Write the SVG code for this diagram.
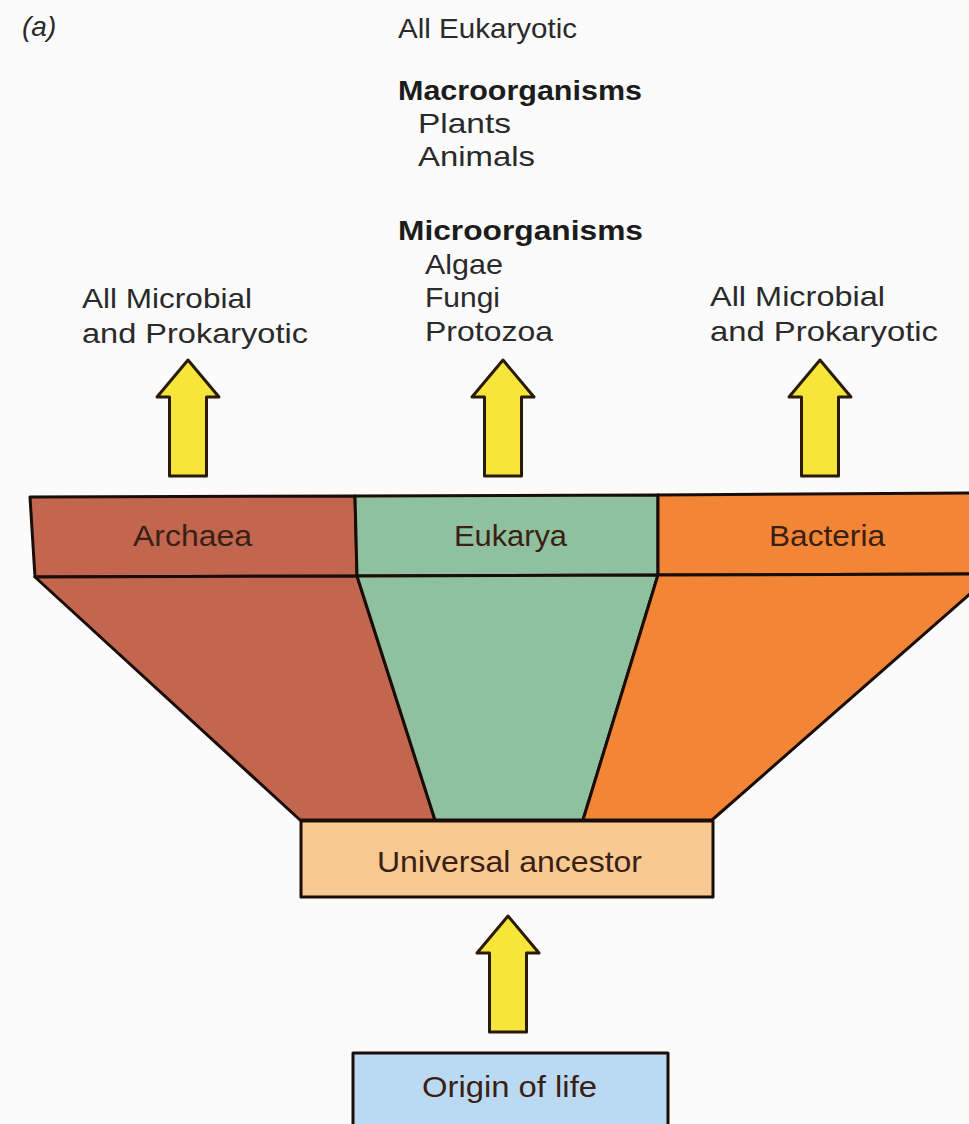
<svg xmlns="http://www.w3.org/2000/svg" width="969" height="1124" viewBox="0 0 969 1124">
<style>
.t{font-family:"Liberation Sans",Arial,sans-serif;font-size:28px;fill:#2a2a2a}
.b{font-weight:bold;font-size:28px;fill:#1c1c1c}
.lbl{font-family:"Liberation Sans",Arial,sans-serif;font-size:29px;fill:#3a1f14}
.sh{stroke:#1a0d08;stroke-width:3;stroke-linejoin:round}
.arr{fill:#f7e63a;stroke:#2a1a08;stroke-width:3;stroke-linejoin:round}
</style>
<defs>
<path id="arrow" d="M0,0 L31,37 L18.5,37 L18.5,116 L-18.5,116 L-18.5,37 L-31,37 Z"/>
</defs>
<rect width="969" height="1124" fill="#fbfbfb"/>
<g id="labels">
<text class="t" x="22" y="36" font-style="italic" font-size="25">(a)</text>
<text class="t" x="398" y="38" textLength="179" lengthAdjust="spacingAndGlyphs">All Eukaryotic</text>
<text class="t b" x="398" y="100" textLength="244" lengthAdjust="spacingAndGlyphs">Macroorganisms</text>
<text class="t" x="418" y="133" textLength="93" lengthAdjust="spacingAndGlyphs">Plants</text>
<text class="t" x="418" y="166" textLength="117" lengthAdjust="spacingAndGlyphs">Animals</text>
<text class="t b" x="398" y="240" textLength="245" lengthAdjust="spacingAndGlyphs">Microorganisms</text>
<text class="t" x="425" y="274" textLength="78" lengthAdjust="spacingAndGlyphs">Algae</text>
<text class="t" x="425" y="307" textLength="75" lengthAdjust="spacingAndGlyphs">Fungi</text>
<text class="t" x="425" y="341" textLength="128" lengthAdjust="spacingAndGlyphs">Protozoa</text>
<text class="t" x="82" y="308" textLength="170" lengthAdjust="spacingAndGlyphs">All Microbial</text>
<text class="t" x="82" y="343" textLength="226" lengthAdjust="spacingAndGlyphs">and Prokaryotic</text>
<text class="t" x="710" y="306" textLength="175" lengthAdjust="spacingAndGlyphs">All Microbial</text>
<text class="t" x="710" y="341" textLength="228" lengthAdjust="spacingAndGlyphs">and Prokaryotic</text>
</g>
<g id="archaea">
<polygon class="sh" fill="#c2664f" points="30,497 355,496 357,576 35,577"/>
<polygon class="sh" fill="#c2664f" points="35,577 357,576 435,820 300,820"/>
<text class="lbl" x="133" y="546" textLength="119" lengthAdjust="spacingAndGlyphs">Archaea</text>
</g>
<g id="eukarya">
<polygon class="sh" fill="#8fc09f" points="355,496 658,495 658,575 357,576"/>
<polygon class="sh" fill="#8fc09f" points="357,576 658,575 583,820 435,820"/>
<text class="lbl" x="454" y="546" textLength="113" lengthAdjust="spacingAndGlyphs" fill="#1f3a2a">Eukarya</text>
</g>
<g id="bacteria">
<polygon class="sh" fill="#f38537" points="658,495 972,493 972,574 658,575"/>
<polygon class="sh" fill="#f38537" points="658,575 972,574 972,592 712,820 583,820"/>
<text class="lbl" x="769" y="546" textLength="116" lengthAdjust="spacingAndGlyphs">Bacteria</text>
</g>
<g id="universal-ancestor">
<rect class="sh" fill="#f8c992" x="301" y="821" width="412" height="76"/>
<text class="lbl" x="377" y="872" textLength="265" lengthAdjust="spacingAndGlyphs">Universal ancestor</text>
</g>
<g id="origin-of-life">
<rect class="sh" fill="#b9daf2" x="353" y="1053" width="315" height="80"/>
<text class="lbl" x="422" y="1097" textLength="175" lengthAdjust="spacingAndGlyphs" fill="#1f2a3a">Origin of life</text>
</g>
<g id="connectors">
<use href="#arrow" class="arr" x="188" y="360"/>
<use href="#arrow" class="arr" x="503" y="360"/>
<use href="#arrow" class="arr" x="820" y="360"/>
<use href="#arrow" class="arr" x="508" y="916"/>
</g>
</svg>
